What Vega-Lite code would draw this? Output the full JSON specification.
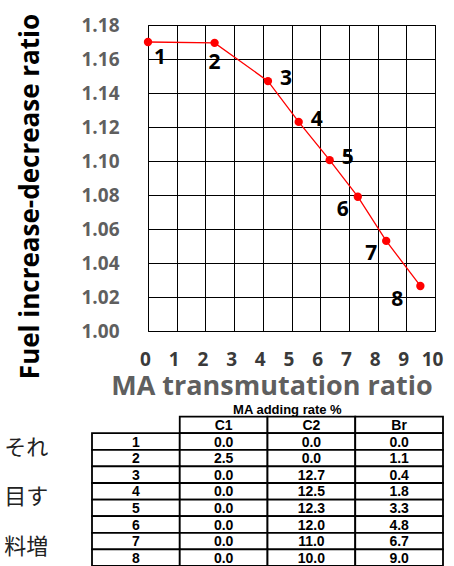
{
  "$schema": "https://vega.github.io/schema/vega-lite/v6.json",
  "padding": {"left": 0, "top": 12, "right": 0, "bottom": 0},
  "background": "white",
  "spacing": 0,
  "config": {"font": "Open Sans"},
  "vconcat": [
    {
      "width": 287,
      "height": 306,
      "view": {"stroke": "#000", "strokeWidth": 1},
      "data": {"values": [
        {"pt": 1, "ratio": 0.0, "fuel": 1.170},
        {"pt": 2, "ratio": 2.32, "fuel": 1.1695},
        {"pt": 3, "ratio": 4.18, "fuel": 1.147},
        {"pt": 4, "ratio": 5.25, "fuel": 1.123},
        {"pt": 5, "ratio": 6.33, "fuel": 1.1005},
        {"pt": 6, "ratio": 7.31, "fuel": 1.079},
        {"pt": 7, "ratio": 8.30, "fuel": 1.053},
        {"pt": 8, "ratio": 9.49, "fuel": 1.0265}
      ]},
      "encoding": {
        "x": {
          "field": "ratio", "type": "quantitative",
          "scale": {"domain": [0, 10], "nice": false, "zero": false},
          "axis": {
            "values": [0, 1, 2, 3, 4, 5, 6, 7, 8, 9, 10],
            "grid": true, "gridColor": "#000", "gridOpacity": 1, "gridWidth": 1,
            "ticks": false, "domain": false,
            "labelFont": "Open Sans", "labelFontSize": 19, "labelFontWeight": "bold", "labelColor": "#3a3a3a",
            "labelPadding": 19, "labelOffset": -3, "labelFlush": false, "labelOverlap": false,
            "title": "MA transmutation ratio",
            "titleFont": "Open Sans", "titleFontSize": 27, "titleFontWeight": "bold", "titleColor": "#5f5f5f",
            "titleX": 123.5, "titleY": 63, "titleBaseline": "alphabetic", "titleAlign": "center"
          }
        },
        "y": {
          "field": "fuel", "type": "quantitative",
          "scale": {"domain": [1.0, 1.18], "nice": false, "zero": false},
          "axis": {
            "values": [1.0, 1.02, 1.04, 1.06, 1.08, 1.1, 1.12, 1.14, 1.16, 1.18],
            "format": ".2f",
            "grid": true, "gridColor": "#000", "gridOpacity": 1, "gridWidth": 1,
            "ticks": false, "domain": false,
            "labelFont": "Open Sans", "labelFontSize": 19, "labelFontWeight": "bold", "labelColor": "#5f5f5f",
            "labelPadding": 29, "labelFlush": false, "labelOverlap": false,
            "title": ["", "Fuel increase-decrease ratio"],
            "titleFont": "Open Sans", "titleFontSize": 26, "titleFontWeight": "bold", "titleColor": "#000",
            "titleLineHeight": 16,
            "titleX": -121, "titleY": 171, "titleBaseline": "bottom", "titleAlign": "center", "titleAngle": 270
          }
        }
      },
      "layer": [
        {"mark": {"type": "line", "color": "#ff0000", "strokeWidth": 1.3}},
        {"mark": {"type": "circle", "color": "#ff0000", "opacity": 1, "size": 70}},
        {
          "transform": [{"filter": {"field": "pt", "oneOf": [1]}}],
          "mark": {"type": "text", "dx": 12, "dy": 16, "fontSize": 21, "fontWeight": "bold", "color": "#000", "font": "Open Sans"},
          "encoding": {"text": {"field": "pt", "type": "nominal"}}
        },
        {
          "transform": [{"filter": {"field": "pt", "oneOf": [2]}}],
          "mark": {"type": "text", "dx": 0, "dy": 20, "fontSize": 21, "fontWeight": "bold", "color": "#000", "font": "Open Sans"},
          "encoding": {"text": {"field": "pt", "type": "nominal"}}
        },
        {
          "transform": [{"filter": {"field": "pt", "oneOf": [3, 4, 5]}}],
          "mark": {"type": "text", "dx": 18, "dy": -2, "fontSize": 21, "fontWeight": "bold", "color": "#000", "font": "Open Sans"},
          "encoding": {"text": {"field": "pt", "type": "nominal"}}
        },
        {
          "transform": [{"filter": {"field": "pt", "oneOf": [6, 7]}}],
          "mark": {"type": "text", "dx": -15, "dy": 13, "fontSize": 21, "fontWeight": "bold", "color": "#000", "font": "Open Sans"},
          "encoding": {"text": {"field": "pt", "type": "nominal"}}
        },
        {
          "transform": [{"filter": {"field": "pt", "oneOf": [8]}}],
          "mark": {"type": "text", "dx": -23, "dy": 14, "fontSize": 21, "fontWeight": "bold", "color": "#000", "font": "Open Sans"},
          "encoding": {"text": {"field": "pt", "type": "nominal"}}
        }
      ]
    },
    {
      "width": 295,
      "height": 166,
      "view": {"stroke": null},
      "data": {"values": [
        {"r": "1", "c": "jp", "v": "それ"},
        {"r": "4", "c": "jp", "v": "目す"},
        {"r": "7", "c": "jp", "v": "料増"},
        {"r": "title", "c": "C2", "v": "MA adding rate  %"},
        {"r": "hdr", "c": "C1", "v": "C1"},
        {"r": "hdr", "c": "C2", "v": "C2"},
        {"r": "hdr", "c": "Br", "v": "Br"},
        {"r": "1", "c": "lab", "v": "1"}, {"r": "1", "c": "C1", "v": "0.0"}, {"r": "1", "c": "C2", "v": "0.0"}, {"r": "1", "c": "Br", "v": "0.0"},
        {"r": "2", "c": "lab", "v": "2"}, {"r": "2", "c": "C1", "v": "2.5"}, {"r": "2", "c": "C2", "v": "0.0"}, {"r": "2", "c": "Br", "v": "1.1"},
        {"r": "3", "c": "lab", "v": "3"}, {"r": "3", "c": "C1", "v": "0.0"}, {"r": "3", "c": "C2", "v": "12.7"}, {"r": "3", "c": "Br", "v": "0.4"},
        {"r": "4", "c": "lab", "v": "4"}, {"r": "4", "c": "C1", "v": "0.0"}, {"r": "4", "c": "C2", "v": "12.5"}, {"r": "4", "c": "Br", "v": "1.8"},
        {"r": "5", "c": "lab", "v": "5"}, {"r": "5", "c": "C1", "v": "0.0"}, {"r": "5", "c": "C2", "v": "12.3"}, {"r": "5", "c": "Br", "v": "3.3"},
        {"r": "6", "c": "lab", "v": "6"}, {"r": "6", "c": "C1", "v": "0.0"}, {"r": "6", "c": "C2", "v": "12.0"}, {"r": "6", "c": "Br", "v": "4.8"},
        {"r": "7", "c": "lab", "v": "7"}, {"r": "7", "c": "C1", "v": "0.0"}, {"r": "7", "c": "C2", "v": "11.0"}, {"r": "7", "c": "Br", "v": "6.7"},
        {"r": "8", "c": "lab", "v": "8"}, {"r": "8", "c": "C1", "v": "0.0"}, {"r": "8", "c": "C2", "v": "10.0"}, {"r": "8", "c": "Br", "v": "9.0"}
      ]},
      "encoding": {
        "x": {"field": "c", "type": "nominal", "scale": {"domain": ["jp", "lab", "C1", "C2", "Br"], "range": [-143.75, 295], "paddingInner": 0, "paddingOuter": 0}, "axis": null},
        "y": {"field": "r", "type": "nominal", "scale": {"domain": ["title", "hdr", "1", "2", "3", "4", "5", "6", "7", "8"], "paddingInner": 0, "paddingOuter": 0}, "axis": null}
      },
      "layer": [
        {
          "transform": [{"filter": "datum.r != 'title' && datum.c != 'jp'"}],
          "mark": {"type": "rect", "fill": "white", "stroke": "#000", "strokeWidth": 1.8}
        },
        {
          "transform": [{"filter": "datum.r != 'title' && datum.c != 'jp'"}],
          "mark": {"type": "text", "font": "Liberation Sans", "fontSize": 14, "fontWeight": "bold", "color": "#000", "baseline": "middle", "dy": 1},
          "encoding": {"text": {"field": "v", "type": "nominal"}}
        },
        {
          "transform": [{"filter": "datum.r == 'title'"}],
          "mark": {"type": "text", "font": "Liberation Sans", "fontSize": 13, "fontWeight": "bold", "color": "#000", "baseline": "middle", "dx": -24, "dy": 2},
          "encoding": {"text": {"field": "v", "type": "nominal"}}
        },
        {
          "transform": [{"filter": "datum.c == 'jp'"}],
          "mark": {"type": "text", "font": "Noto Sans CJK JP", "fontSize": 22, "color": "#222", "align": "left", "baseline": "middle", "dy": 6},
          "encoding": {
            "x": {"field": "c", "type": "nominal", "bandPosition": 0},
            "text": {"field": "v", "type": "nominal"}
          }
        }
      ]
    }
  ]
}
